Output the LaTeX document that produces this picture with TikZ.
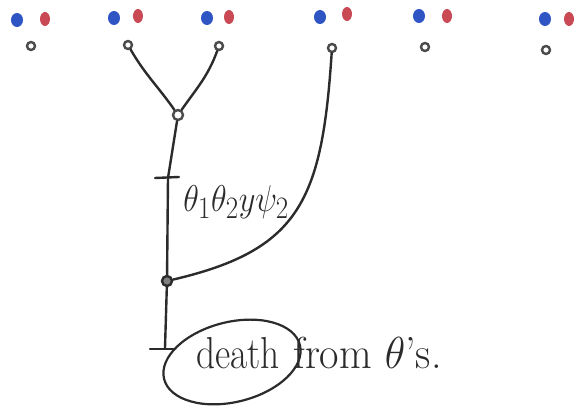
\documentclass[tikz,border=0pt]{standalone}
\usetikzlibrary{shapes.geometric}
\definecolor{dotblue}{HTML}{2F55C4}
\definecolor{dotred}{HTML}{C94A55}
\definecolor{ink}{HTML}{2B2B2B}
\tikzset{
  bdot/.style={ellipse,fill=dotblue,inner sep=0pt,minimum width=12pt,minimum height=14pt},
  rdot/.style={ellipse,fill=dotred,inner sep=0pt,minimum width=10pt,minimum height=14pt},
  ring/.style={circle,draw=ink!85,fill=white,line width=2.4pt,inner sep=0pt,minimum size=8pt},
  bignode/.style={circle,draw=ink,fill=ink!60,line width=2.4pt,inner sep=0pt,minimum size=10pt},
  edge/.style={draw=ink,line width=2.4pt,line cap=round},
  bigtext/.style={text=ink,inner sep=0pt,font=\Huge},
}
\begin{document}
\begin{tikzpicture}[x=1pt,y=1pt]
\useasboundingbox (0,0) rectangle (579,-419);
% top row
\node[bdot] (b1) at (17,-20) {}; \node[rdot] (r1) at (45,-19) {}; \node[ring] (g1) at (31,-46) {};
\node[bdot] (b2) at (114,-18) {}; \node[rdot] (r2) at (138,-16) {}; \node[ring] (g2) at (128,-45) {};
\node[bdot] (b3) at (207,-18) {}; \node[rdot] (r3) at (229,-17) {}; \node[ring] (g3) at (219,-46) {};
\node[bdot] (b4) at (320,-17) {}; \node[rdot] (r4) at (347,-14) {}; \node[ring] (g4) at (332,-48) {};
\node[bdot] (b5) at (419,-16) {}; \node[rdot] (r5) at (447,-16) {}; \node[ring] (g5) at (425,-47) {};
\node[bdot] (b6) at (545,-19) {}; \node[rdot] (r6) at (569,-19) {}; \node[ring] (g6) at (546,-50) {};
% merge nodes
\node[ring,minimum size=10pt] (m1) at (178,-115) {};
\node[bignode] (m2) at (167,-281) {};
\coordinate (ttop) at (168,-178);
\coordinate (tbot) at (165,-348);
\coordinate (tl1) at (155,-178); \coordinate (tr1) at (179,-177);
\coordinate (tl2) at (150,-349); \coordinate (tr2) at (174,-349);
% edges
\draw[edge] (g2) to[out=-60,in=125] (m1);
\draw[edge] (g3) to[out=-110,in=55] (m1);
\draw[edge] (m1) -- (ttop) -- (m2) -- (tbot);
\draw[edge] (tl1) -- (tr1);
\draw[edge] (tl2) -- (tr2);
\draw[edge] (g4) .. controls (322,-200) and (300,-250) .. (m2);
% labels
\node[bigtext,anchor=west,xscale=1.3,yscale=1.5] (lab) at (183,-202) {$\theta_1\theta_2 y\psi_2$};
\node[bigtext,anchor=base west,xscale=1.5,yscale=1.8] (death) at (196,-369) {death};
\node[bigtext,anchor=base west,xscale=1.7,yscale=1.8] (from) at (293,-369) {from $\theta$'s.};
\draw[edge,line width=2.2pt,rotate around={14:(232,-362)}] (232,-362) ellipse [x radius=70, y radius=40];
\end{tikzpicture}
\end{document}
